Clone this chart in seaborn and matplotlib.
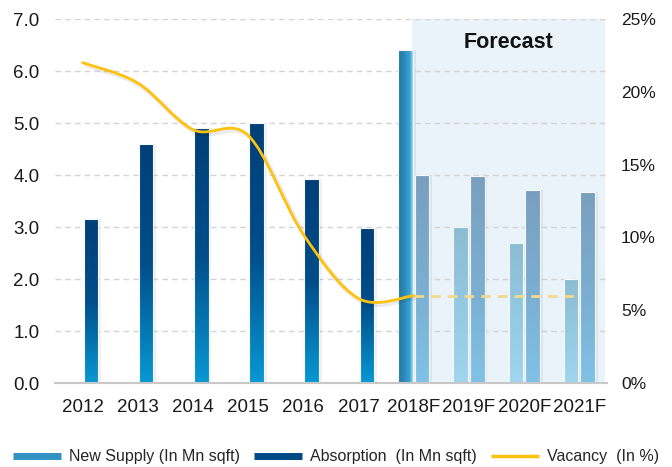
import numpy as np
import pandas as pd
import seaborn as sns
import matplotlib.pyplot as plt
import matplotlib.transforms as mtransforms
from matplotlib.colors import LinearSegmentedColormap
from matplotlib.lines import Line2D
from matplotlib.path import Path
from matplotlib.patches import PathPatch

# chart values
years = ['2012', '2013', '2014', '2015', '2016', '2017', '2018F', '2019F', '2020F', '2021F']
new_supply = [np.nan, np.nan, np.nan, np.nan, np.nan, np.nan, 6.4, 3.0, 2.7, 2.0]
absorption = [3.15, 4.6, 4.9, 5.0, 3.92, 2.98, 4.0, 3.98, 3.72, 3.67]
vacancy = [22.0, 20.6, 17.4, 17.0, 10.2, 5.8, 6.0, 6.0, 6.0, 6.0]
n_actual = 7  # vacancy points drawn solid (up to 2018F), rest dashed

lab_ns = 'New Supply (In Mn sqft)'
lab_ab = 'Absorption  (In Mn sqft)'
lab_vac = 'Vacancy  (In %)'

df = pd.DataFrame({
    'year': years * 2,
    'value': new_supply + absorption,
    'series': [lab_ns] * len(years) + [lab_ab] * len(years),
})

sns.set_style('white')
plt.rcParams['font.family'] = ['Liberation Sans', 'DejaVu Sans']

fig = plt.figure(figsize=(6.72, 4.67), dpi=100)
ax = fig.add_axes([55 / 672, 1 - 383 / 467, 552 / 672, 364 / 467])

sns.barplot(data=df, x='year', y='value', hue='series', hue_order=[lab_ns, lab_ab],
            order=years, width=0.6, gap=0.12, ax=ax, legend=False, zorder=2)

cm_abs = LinearSegmentedColormap.from_list('a', [(0, '#0898D3'), (0.5, '#004E8A'), (1, '#003F78')])
cm_abs_f = LinearSegmentedColormap.from_list('af', [(0, '#80C2E6'), (0.5, '#7AADD0'), (1, '#7A9FBE')])
cm_ns_f = LinearSegmentedColormap.from_list('nf', [(0, '#A0D4EF'), (0.5, '#94C9E2'), (1, '#8BBCD2')])
cm_ns_18 = LinearSegmentedColormap.from_list('n18', [(0, '#2A76A0'), (0.45, '#2E8BBB'),
                                                     (0.8, '#3AA4D6'), (1, '#A6DAF0')])
vgrad = np.linspace(0, 1, 256).reshape(-1, 1)
hgrad = np.linspace(0, 1, 256).reshape(1, -1)

for p in list(ax.patches):
    h = p.get_height()
    if not np.isfinite(h) or h <= 0:
        p.set_visible(False)
        continue
    x0 = p.get_x()
    w = p.get_width()
    cx = x0 + w / 2
    idx = int(round(cx))
    is_ns = cx < idx
    if is_ns:
        if idx == 6:
            cmap, grad = cm_ns_18, hgrad
        else:
            cmap, grad = cm_ns_f, vgrad
    else:
        cmap, grad = (cm_abs if idx < 6 else cm_abs_f), vgrad
    # soft shadow
    ax.bar(cx + 0.03, h, width=w + 0.04, bottom=0, color='#000000', alpha=0.06, zorder=1.5, lw=0)
    im = ax.imshow(grad, cmap=cmap, extent=[x0, x0 + w, 0, h], origin='lower',
                   aspect='auto', zorder=2, interpolation='bilinear')
    im.set_clip_path(p)
    p.set_facecolor('none')
    p.set_edgecolor('#F4F8FB')
    p.set_linewidth(0.8)
    p.set_zorder(2.5)

# forecast shading
ax.axvspan(5.97, 9.46, color='#EAF3FA', zorder=0.2, lw=0)

ax.set_xlim(-0.5, 9.5)
ax.set_ylim(0, 7)
ax.set_yticks(np.arange(0, 7.5, 1.0))
ax.set_yticklabels([f'{v:.1f}' for v in np.arange(0, 7.5, 1.0)])
ax.set_axisbelow(True)
ax.yaxis.grid(True, color='#D3D3D3', linestyle=(0, (4, 3)), lw=1.0, zorder=0.5)
ax.xaxis.grid(False)
for s in ['left', 'right', 'top']:
    ax.spines[s].set_visible(False)
ax.spines['bottom'].set_color('#C8C8C8')
ax.spines['bottom'].set_linewidth(1.5)
ax.set_xticks(np.arange(-0.5, 10, 1.0), minor=True)
ax.tick_params(axis='x', which='minor', length=5, width=1.2, color='#C8C8C8', direction='out')
ax.tick_params(axis='x', which='major', length=0, pad=11.5, labelsize=13.5, labelcolor='#1A1A1A')
ax.tick_params(axis='y', length=0, pad=11, labelsize=13.5, labelcolor='#1A1A1A')
ax.set_xlabel('')
ax.set_ylabel('')

ax.text(7.72, 6.55, 'Forecast', fontsize=15.5, fontweight='bold', ha='center', va='center',
        color='#111111', zorder=3)

# vacancy on right axis
ax2 = ax.twinx()
ax2.set_ylim(0, 25)
ax2.set_yticks(np.arange(0, 26, 5))
ax2.set_yticklabels([f'{v}%' for v in range(0, 26, 5)])
ax2.tick_params(axis='y', length=0, pad=10, labelsize=12.5, labelcolor='#1A1A1A')
for s in ax2.spines.values():
    s.set_visible(False)

# smoothed curve (Catmull-Rom as cubic Bezier) through the actual points
xs = np.arange(n_actual, dtype=float)
ys = np.array(vacancy[:n_actual])
pts = np.column_stack([xs, ys])
ext = np.vstack([pts[0], pts, pts[-1]])
verts = [tuple(pts[0])]
codes = [Path.MOVETO]
for i in range(len(pts) - 1):
    p0, p1, p2, p3 = ext[i], ext[i + 1], ext[i + 2], ext[i + 3]
    c1 = p1 + (p2 - p0) / 6
    c2 = p2 - (p3 - p1) / 6
    verts += [tuple(c1), tuple(c2), tuple(p2)]
    codes += [Path.CURVE4] * 3
shadow = PathPatch(Path(verts, codes), fill=False, edgecolor='#000000', alpha=0.08, lw=3.5, zorder=3)
shadow.set_transform(ax2.transData + mtransforms.ScaledTranslation(1.5 / 72, -1.5 / 72, fig.dpi_scale_trans))
ax2.add_patch(shadow)
ax2.add_patch(PathPatch(Path(verts, codes), fill=False, edgecolor='#FFC20E', lw=2.0, zorder=4,
                        capstyle='round'))
ax2.plot(np.arange(n_actual - 1, len(years)), vacancy[n_actual - 1:], color='#F3D98A', lw=2.0,
         linestyle=(0, (3.5, 2.5)), zorder=4)

handles = [
    Line2D([], [], color='#3192C4', lw=5, solid_capstyle='butt'),
    Line2D([], [], color='#004A85', lw=5, solid_capstyle='butt'),
    Line2D([], [], color='#FFC20E', lw=2.5, solid_capstyle='butt'),
]
fig.legend(handles, [lab_ns, lab_ab, lab_vac], loc='center', bbox_to_anchor=(0.5, 1 - 457 / 467),
           ncol=3, frameon=False, fontsize=11.5, handlelength=3.0, columnspacing=0.9, handletextpad=0.5)

fig.savefig('out.png', dpi=100)
